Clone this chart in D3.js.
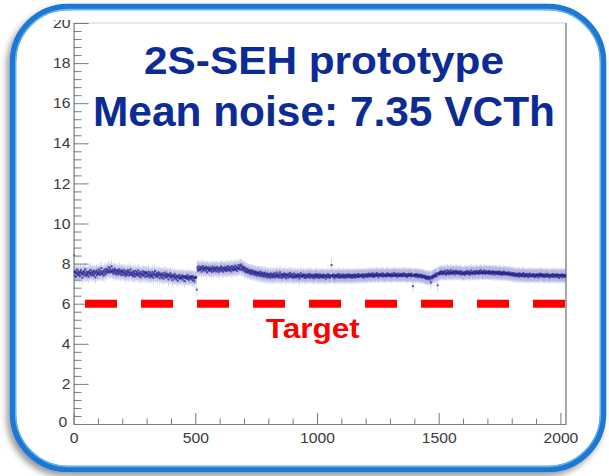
<!DOCTYPE html>
<html><head><meta charset="utf-8">
<script src="https://cdn.jsdelivr.net/npm/d3@7"></script>
<style>body{margin:0;background:#fff;} svg{display:block;}</style>
</head><body>
<svg id="c" width="609" height="476"></svg>
<script>
// Noise per channel (VCTh), one value every 2 channels (channel = index * channelStep)
const channelStep = 2;
const noise = [
8.43,7.58,7.39,7.62,7.51,7.33,7.55,7.70,7.44,7.49,
7.61,7.42,7.53,7.36,7.58,7.67,7.45,7.52,7.29,7.57,
7.48,7.63,7.41,7.55,7.72,7.47,7.38,7.59,7.50,7.44,
7.56,7.35,7.62,7.49,7.53,7.68,7.42,7.57,7.46,7.60,
7.51,7.39,7.64,7.47,7.55,7.31,7.58,7.66,7.43,7.52,
7.59,7.48,7.71,7.52,7.44,7.63,7.57,7.78,7.50,7.46,
7.62,7.55,7.40,7.69,7.58,7.47,7.73,7.61,7.52,7.66,
7.70,7.58,7.82,7.64,7.55,7.76,7.68,7.59,7.87,7.62,
7.57,7.71,7.49,7.65,7.60,7.74,7.53,7.66,7.45,7.62,
7.55,7.68,7.47,7.59,7.72,7.51,7.63,7.44,7.58,7.66,
7.52,7.61,7.43,7.57,7.69,7.48,7.55,7.38,7.63,7.50,
7.46,7.58,7.67,7.41,7.53,7.60,7.44,7.71,7.49,7.55,
7.42,7.56,7.38,7.61,7.47,7.52,7.35,7.64,7.45,7.50,
7.58,7.41,7.49,7.66,7.37,7.53,7.44,7.59,7.32,7.48,
7.51,7.43,7.62,7.39,7.55,7.46,7.58,7.34,7.49,7.57,
7.40,7.53,7.36,7.47,7.60,7.42,7.31,7.55,7.44,7.38,
7.49,7.35,7.58,7.43,7.29,7.52,7.46,7.63,7.37,7.45,
7.41,7.54,7.33,7.48,7.39,7.56,7.44,7.27,7.50,7.42,
7.36,7.47,7.30,7.52,7.41,7.25,7.45,7.38,7.55,7.33,
7.44,7.31,7.49,7.37,7.42,7.21,7.46,7.35,7.40,7.52,
7.29,7.41,7.36,7.18,7.44,7.32,7.38,7.26,7.47,7.35,
7.31,7.22,7.40,7.34,7.15,7.37,7.28,7.43,7.30,7.24,
7.36,7.27,7.33,7.41,7.20,7.35,7.29,7.38,7.13,7.32,
7.28,7.37,7.24,7.31,7.42,7.26,7.34,7.19,7.30,7.36,
7.27,7.33,7.22,7.38,7.29,7.16,7.35,7.25,7.12,7.31,
7.30,7.28,7.34,6.70,7.81,7.72,7.64,7.86,7.70,7.77,
7.69,7.83,7.74,7.60,7.79,7.88,7.71,7.66,7.80,7.73,
7.78,7.65,7.84,7.72,7.57,7.76,7.81,7.69,7.74,7.63,
7.71,7.82,7.67,7.76,7.59,7.73,7.85,7.70,7.62,7.79,
7.74,7.68,7.80,7.61,7.75,7.83,7.66,7.72,7.58,7.77,
7.70,7.79,7.64,7.86,7.73,7.67,7.81,7.60,7.76,7.71,
7.78,7.66,7.84,7.72,7.63,7.80,7.69,7.87,7.74,7.65,
7.75,7.82,7.68,7.79,7.61,7.88,7.73,7.70,7.83,7.67,
7.80,7.72,7.90,7.69,7.77,7.85,7.64,7.79,7.74,7.93,
7.76,7.84,7.70,7.88,7.95,7.73,7.81,7.67,7.86,7.78,
7.72,7.64,7.80,7.58,7.69,7.75,7.61,7.55,7.71,7.63,
7.57,7.66,7.50,7.62,7.54,7.68,7.47,7.60,7.56,7.64,
7.49,7.58,7.44,7.55,7.61,7.46,7.53,7.40,7.57,7.51,
7.54,7.42,7.48,7.59,7.38,7.50,7.45,7.56,7.36,7.49,
7.41,7.52,7.35,7.46,7.55,7.39,7.44,7.31,7.50,7.42,
7.37,7.48,7.33,7.45,7.29,7.51,7.40,7.36,7.47,7.32,
7.44,7.35,7.52,7.39,7.30,7.46,7.41,7.55,7.34,7.43,
7.38,7.49,7.31,7.42,7.57,7.36,7.45,7.28,7.47,7.40,
7.33,7.46,7.39,7.51,7.35,7.43,7.27,7.48,7.37,7.44,
7.41,7.30,7.47,7.38,7.53,7.34,7.42,7.36,7.49,7.32,
7.45,7.37,7.29,7.50,7.39,7.34,7.46,7.31,7.42,7.36,
7.40,7.48,7.33,7.39,7.26,7.44,7.37,7.52,7.35,7.41,
7.34,7.43,7.38,7.47,7.30,7.41,7.36,7.28,7.45,7.39,
7.37,7.32,7.46,7.40,7.35,7.49,7.29,7.42,7.38,7.44,
7.33,7.41,7.36,7.27,7.45,7.39,7.31,7.43,7.35,7.48,
7.38,7.30,7.44,7.35,7.41,7.28,7.46,7.33,7.39,7.42,
7.34,7.40,7.29,7.45,7.37,7.32,7.43,7.36,7.25,7.41,
7.39,7.33,7.47,7.31,7.38,7.44,7.35,7.29,7.42,7.36,
7.93,7.41,7.37,7.46,7.32,7.39,7.27,7.43,7.35,7.40,
7.36,7.44,7.31,7.38,7.48,7.34,7.40,7.29,7.45,7.37,
7.33,7.42,7.38,7.30,7.46,7.35,7.41,7.37,7.28,7.44,
7.39,7.34,7.45,7.32,7.40,7.36,7.47,7.31,7.43,7.38,
7.35,7.42,7.29,7.44,7.37,7.33,7.41,7.46,7.30,7.39,
7.43,7.36,7.40,7.32,7.48,7.38,7.34,7.45,7.37,7.41,
7.38,7.44,7.33,7.40,7.47,7.35,7.42,7.30,7.46,7.39,
7.42,7.36,7.48,7.39,7.33,7.45,7.41,7.50,7.37,7.43,
7.40,7.47,7.35,7.44,7.52,7.38,7.43,7.34,7.49,7.41,
7.37,7.46,7.42,7.53,7.39,7.44,7.32,7.48,7.41,7.45,
7.43,7.38,7.50,7.41,7.46,7.35,7.51,7.40,7.44,7.37,
7.45,7.41,7.36,7.49,7.43,7.52,7.38,7.46,7.42,7.39,
7.47,7.40,7.44,7.35,7.50,7.42,7.38,7.46,7.41,7.53,
7.39,7.45,7.42,7.48,7.34,7.44,7.40,7.51,7.37,7.43,
7.46,7.38,7.43,7.49,7.41,7.36,7.47,7.42,7.52,7.40,
7.44,7.37,7.48,7.40,7.45,7.33,7.46,7.41,7.38,7.49,
7.42,7.47,7.39,7.44,7.36,7.50,7.41,6.88,7.38,7.43,
7.40,7.46,7.35,7.42,7.48,7.37,7.44,7.31,7.45,7.39,
7.36,7.43,7.38,7.33,7.45,7.30,7.41,7.37,7.34,7.40,
7.33,7.28,7.39,7.31,7.25,7.36,7.30,7.22,7.34,7.29,
7.27,7.35,7.20,7.31,7.06,7.33,7.26,7.38,7.29,7.36,
7.41,7.34,7.45,7.38,7.49,7.42,7.36,7.52,6.92,7.47,
7.53,7.46,7.58,7.49,7.55,7.62,7.47,7.56,7.51,7.60,
7.48,7.57,7.52,7.64,7.50,7.45,7.59,7.53,7.66,7.49,
7.55,7.61,7.47,7.58,7.52,7.67,7.54,7.49,7.60,7.56,
7.51,7.63,7.57,7.46,7.59,7.54,7.65,7.50,7.58,7.53,
7.60,7.48,7.56,7.62,7.51,7.57,7.45,7.61,7.54,7.50,
7.47,7.55,7.50,7.59,7.44,7.53,7.58,7.49,7.63,7.52,
7.56,7.48,7.61,7.53,7.45,7.58,7.51,7.66,7.54,7.49,
7.52,7.60,7.55,7.47,7.62,7.50,7.57,7.53,7.64,7.51,
7.58,7.54,7.49,7.63,7.56,7.51,7.67,7.55,7.60,7.53,
7.50,7.61,7.57,7.52,7.65,7.54,7.48,7.59,7.62,7.55,
7.53,7.58,7.50,7.63,7.56,7.49,7.61,7.55,7.52,7.59,
7.47,7.56,7.62,7.51,7.57,7.45,7.58,7.53,7.60,7.49,
7.55,7.50,7.59,7.46,7.54,7.61,7.48,7.57,7.52,7.44,
7.51,7.58,7.47,7.53,7.60,7.45,7.52,7.56,7.48,7.54,
7.46,7.53,7.49,7.57,7.43,7.51,7.47,7.55,7.42,7.50,
7.48,7.41,7.53,7.45,7.39,7.51,7.44,7.49,7.37,7.46,
7.42,7.50,7.38,7.47,7.44,7.35,7.52,7.41,7.46,7.39,
7.45,7.36,7.48,7.42,7.53,7.40,7.34,7.47,7.43,7.38,
7.41,7.49,7.37,7.44,7.32,7.46,7.40,7.51,7.36,7.43,
7.39,7.45,7.42,7.35,7.48,7.41,7.37,7.46,7.33,7.44,
7.42,7.36,7.47,7.40,7.44,7.31,7.45,7.39,7.50,7.38,
7.43,7.48,7.35,7.41,7.46,7.37,7.42,7.33,7.47,7.40,
7.36,7.44,7.39,7.49,7.34,7.42,7.45,7.38,7.30,7.43,
7.41,7.35,7.46,7.40,7.37,7.48,7.32,7.44,7.39,7.42,
7.38,7.45,7.33,7.41,7.47,7.36,7.43,7.29,7.40,7.44,
7.35,7.42,7.39,7.46,7.31,7.43,7.37,7.44,7.40,7.34,
7.41,7.36,7.45,7.38,7.43,7.39
];
const noiseError = 0.32;
const xDomain = [0, 2023];
const yDomain = [0, 20];
const xTicks = [0, 500, 1000, 1500, 2000];
const xMinorTicks = [100,200,300,400,600,700,800,900,1100,1200,1300,1400,1600,1700,1800,1900];
const yTicks = [0, 2, 4, 6, 8, 10, 12, 14, 16, 18, 20];
const yMinorTicks = [0.4,0.8,1.2,1.6,2.4,2.8,3.2,3.6,4.4,4.8,5.2,5.6,6.4,6.8,7.2,7.6,8.4,8.8,9.2,9.6,10.4,10.8,11.2,11.6,12.4,12.8,13.2,13.6,14.4,14.8,15.2,15.6,16.4,16.8,17.2,17.6,18.4,18.8,19.2,19.6];
const titleLines = ["2S-SEH prototype", "Mean noise: 7.35 VCTh"];
const targetValue = 6;
const targetExtent = [47, 2019];
const targetLabel = "Target";
const targetLabelPos = [983, 4.29];

const svg = d3.select("#c");
const defs = svg.append("defs");
const f = defs.append("filter").attr("id", "sh")
  .attr("x", "-10%").attr("y", "-10%").attr("width", "120%").attr("height", "120%");
f.append("feDropShadow").attr("dx", -3).attr("dy", 4).attr("stdDeviation", 3)
  .attr("flood-color", "#000").attr("flood-opacity", 0.4);
defs.append("clipPath").attr("id", "plotclip").append("rect")
  .attr("x", 30).attr("y", 20).attr("width", 550).attr("height", 440);
defs.append("clipPath").attr("id", "dataclip").append("rect")
  .attr("x", 73.6).attr("y", 23).attr("width", 492.4).attr("height", 401);

// Slide frame
svg.append("rect").attr("x", 13).attr("y", 7).attr("width", 590).attr("height", 462)
  .attr("rx", 55).attr("fill", "#fff").attr("stroke", "#1b78d0").attr("stroke-width", 6.5)
  .attr("filter", "url(#sh)");
svg.append("rect").attr("x", 15.5).attr("y", 9.5).attr("width", 585).attr("height", 457)
  .attr("rx", 53).attr("fill", "none").attr("stroke", "#62b4f3").attr("stroke-width", 1.3);

const x = d3.scaleLinear().domain(xDomain).range([73.6, 566]);
const y = d3.scaleLinear().domain(yDomain).range([424, 23]);

const g = svg.append("g").attr("clip-path", "url(#plotclip)");

// plot frame (top/right)
g.append("line").attr("x1", x(xDomain[0])).attr("x2", x(xDomain[1]))
  .attr("y1", y(yDomain[1])).attr("y2", y(yDomain[1])).attr("stroke", "#d0d0d0").attr("stroke-width", 1);
g.append("line").attr("x1", x(xDomain[1])).attr("x2", x(xDomain[1]))
  .attr("y1", y(yDomain[1])).attr("y2", y(yDomain[0])).attr("stroke", "#8a8a8a").attr("stroke-width", 1.5);

const font = "'Liberation Sans', Arial, Helvetica, sans-serif";
const axisCol = "#7a7a7a";

function styleAxis(sel) {
  sel.select(".domain").attr("stroke", axisCol).attr("stroke-width", 1.2);
  sel.selectAll(".tick line").attr("stroke", axisCol).attr("stroke-width", 1);
  sel.selectAll(".tick text").attr("fill", "#3a3a3a").style("font-family", font).style("font-size", "14.5px")
    .attr("transform", "scale(1.08,1)");
}

// X axis
const xMinor = g.append("g").attr("transform", `translate(0,${y(0)})`)
  .call(d3.axisBottom(x).tickValues(xMinorTicks).tickSize(-5.5).tickSizeOuter(0).tickFormat(""));
styleAxis(xMinor);
xMinor.select(".domain").remove();
const xAx = g.append("g").attr("transform", `translate(0,${y(0)})`)
  .call(d3.axisBottom(x).tickValues(xTicks).tickSize(-11).tickSizeOuter(0).tickPadding(9).tickFormat(d3.format("d")));
styleAxis(xAx);

// Y axis
const yMinor = g.append("g").attr("transform", `translate(${x(0)},0)`)
  .call(d3.axisLeft(y).tickValues(yMinorTicks).tickSize(-8).tickSizeOuter(0).tickFormat(""));
styleAxis(yMinor);
yMinor.select(".domain").remove();
const yAx = g.append("g").attr("transform", `translate(${x(0)},0)`)
  .call(d3.axisLeft(y).tickValues(yTicks).tickSize(-15).tickSizeOuter(0).tickPadding(3).tickFormat(d3.format("d")));
styleAxis(yAx);
yAx.selectAll(".tick").filter(d => d === 0).select("text").attr("x", -6).attr("dy", "0.2em");

// Data points
const dg = g.append("g").attr("clip-path", "url(#dataclip)");
const pts = noise.map((v, i) => ({ch: i * channelStep, v}));
dg.selectAll("line.err").data(pts).join("line").attr("class", "err")
  .attr("x1", d => x(d.ch)).attr("x2", d => x(d.ch))
  .attr("y1", d => y(d.v - noiseError)).attr("y2", d => y(d.v + noiseError))
  .attr("stroke", "#7070c4").attr("stroke-opacity", 0.3).attr("stroke-width", 1);
dg.selectAll("rect.pt").data(pts).join("rect").attr("class", "pt")
  .attr("x", d => x(d.ch) - 1).attr("y", d => y(d.v) - 1)
  .attr("width", 2).attr("height", 2)
  .attr("fill", "#1d1d8c").attr("fill-opacity", 0.7);

// Target line
svg.append("line").attr("x1", x(targetExtent[0])).attr("x2", x(targetExtent[1]))
  .attr("y1", y(targetValue)).attr("y2", y(targetValue))
  .attr("stroke", "#ff0000").attr("stroke-width", 8).attr("stroke-dasharray", "32,24");
svg.append("text").attr("x", x(targetLabelPos[0])).attr("y", y(targetLabelPos[1]))
  .attr("text-anchor", "middle").attr("fill", "#ff0000")
  .style("font-family", font).style("font-weight", "bold").style("font-size", "28px")
  .attr("textLength", 94).attr("lengthAdjust", "spacingAndGlyphs")
  .text(targetLabel);

// Titles
const titleY = [74, 126];
const titleW = [360, 462];
titleLines.forEach((t, i) => {
  svg.append("text").attr("x", 324).attr("y", titleY[i]).attr("text-anchor", "middle")
    .attr("fill", "#0c2b95").style("font-family", font).style("font-weight", "bold")
    .style("font-size", i === 0 ? "39px" : "42px")
    .attr("textLength", titleW[i]).attr("lengthAdjust", "spacingAndGlyphs")
    .text(t);
});
</script>
</body></html>
